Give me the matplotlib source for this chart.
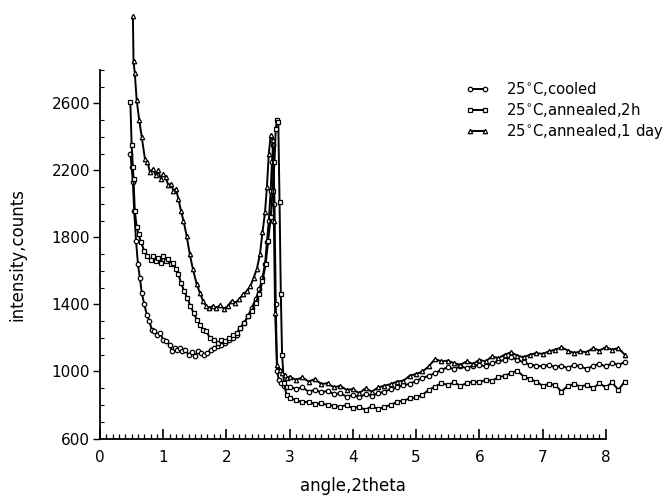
#!/usr/bin/env python3
"""Small-angle scattering scans of the 25 C samples (cooled / annealed)."""

from __future__ import annotations

import matplotlib

matplotlib.use("Agg")
import matplotlib.pyplot as plt
from matplotlib.ticker import MultipleLocator

# shared tail of the scans, angle 3.1 .. 8.3
TAIL_ANGLE = [
    3.1, 3.2, 3.3, 3.4, 3.5, 3.6, 3.7, 3.8, 3.9, 4.0, 4.1, 4.2, 4.3, 4.4,
    4.5, 4.6, 4.7, 4.8, 4.9, 5.0, 5.1, 5.2, 5.3, 5.4, 5.5, 5.6, 5.7, 5.8,
    5.9, 6.0, 6.1, 6.2, 6.3, 6.4, 6.5, 6.6, 6.7, 6.8, 6.9, 7.0, 7.1, 7.2,
    7.3, 7.4, 7.5, 7.6, 7.7, 7.8, 7.9, 8.0, 8.1, 8.2, 8.3,
]

# 25 C, cooled (circles)
COOLED_ANGLE = [
    0.48, 0.50, 0.52, 0.54, 0.57, 0.60, 0.63, 0.66, 0.70, 0.74, 0.78, 0.82,
    0.86, 0.90, 0.95, 1.00, 1.05, 1.10, 1.14, 1.18, 1.22, 1.26, 1.30, 1.35,
    1.40, 1.45, 1.50, 1.55, 1.60, 1.65, 1.70, 1.75, 1.80, 1.86, 1.92, 1.98,
    2.04, 2.10, 2.16, 2.22, 2.28, 2.34, 2.40, 2.46, 2.52, 2.57, 2.61, 2.64,
    2.67, 2.70, 2.72, 2.74, 2.76, 2.78, 2.80, 2.83, 2.87, 2.91, 2.95, 3.00,
]
COOLED_HEAD = [
    2300, 2220, 2130, 1960, 1780, 1640, 1560, 1470, 1400, 1340, 1300, 1250,
    1240, 1220, 1230, 1190, 1180, 1160, 1120, 1140, 1130, 1140, 1120, 1130,
    1100, 1115, 1090, 1120, 1110, 1100, 1110, 1130, 1140, 1150, 1160, 1170,
    1190, 1200, 1220, 1260, 1290, 1330, 1380, 1430, 1490, 1560, 1640, 1770,
    1900, 2080, 2250, 2350, 2000, 1400, 1000, 950, 930, 915, 905, 910,
]
COOLED_TAIL = [
    895, 905, 880, 890, 875, 885, 865, 870, 850, 860, 845, 865, 855, 870,
    880, 895, 905, 920, 925, 945, 960, 975, 990, 1010, 1025, 1015, 1030, 1020,
    1035, 1040, 1030, 1050, 1060, 1070, 1085, 1070, 1055, 1040, 1035, 1030, 1040, 1025,
    1035, 1020, 1040, 1030, 1015, 1035, 1045, 1030, 1050, 1040, 1055,
]

# 25 C, annealed 2h (squares)
ANNEAL_2H_ANGLE = [
    0.48, 0.50, 0.52, 0.53, 0.55, 0.58, 0.61, 0.65, 0.70, 0.75, 0.80, 0.84,
    0.88, 0.92, 0.96, 1.00, 1.04, 1.08, 1.12, 1.16, 1.20, 1.24, 1.28, 1.33,
    1.38, 1.43, 1.48, 1.53, 1.58, 1.63, 1.68, 1.74, 1.80, 1.86, 1.92, 1.98,
    2.04, 2.10, 2.16, 2.22, 2.28, 2.34, 2.40, 2.46, 2.52, 2.57, 2.62, 2.66,
    2.70, 2.73, 2.76, 2.78, 2.80, 2.82, 2.84, 2.86, 2.88, 2.91, 2.95, 3.00,
]
ANNEAL_2H_HEAD = [
    2610, 2350, 2220, 2150, 1960, 1860, 1820, 1770, 1720, 1690, 1665, 1690,
    1660, 1680, 1650, 1690, 1660, 1670, 1640, 1650, 1610, 1580, 1530, 1480,
    1440, 1390, 1350, 1310, 1280, 1250, 1240, 1200, 1190, 1170, 1190, 1180,
    1200, 1215, 1230, 1260, 1290, 1330, 1360, 1410, 1460, 1540, 1640, 1780,
    1920, 2080, 2250, 2450, 2500, 2490, 2010, 1460, 1100, 930, 860, 840,
]
ANNEAL_2H_TAIL = [
    830, 815, 820, 805, 810, 800, 795, 790, 800, 780, 790, 770, 795, 775,
    790, 800, 820, 825, 840, 845, 860, 890, 910, 930, 920, 935, 915, 930,
    940, 935, 950, 945, 965, 975, 990, 1005, 970, 955, 940, 915, 925, 920,
    880, 915, 925, 910, 920, 900, 930, 905, 935, 890, 940,
]

# 25 C, annealed 1 day (triangles)
ANNEAL_1D_ANGLE = [
    0.52, 0.53, 0.55, 0.58, 0.62, 0.66, 0.71, 0.75, 0.79, 0.84, 0.88, 0.92,
    0.96, 1.00, 1.04, 1.08, 1.12, 1.16, 1.20, 1.24, 1.28, 1.32, 1.37, 1.42,
    1.47, 1.53, 1.58, 1.63, 1.68, 1.73, 1.78, 1.84, 1.90, 1.96, 2.02, 2.08,
    2.14, 2.20, 2.26, 2.32, 2.38, 2.43, 2.48, 2.53, 2.57, 2.61, 2.64, 2.67,
    2.70, 2.73, 2.75, 2.77, 2.80, 2.84, 2.88, 2.92, 2.96, 3.00,
]
ANNEAL_1D_HEAD = [
    3120, 2850, 2780, 2620, 2500, 2400, 2270, 2250, 2190, 2210, 2170, 2200,
    2150, 2180, 2160, 2110, 2120, 2080, 2090, 2030, 1960, 1900, 1810, 1700,
    1610, 1520, 1470, 1420, 1390, 1380, 1390, 1380, 1395, 1375, 1390, 1420,
    1410, 1430, 1460, 1480, 1510, 1560, 1610, 1700, 1830, 1950, 2100, 2300,
    2410, 2380, 1900, 1350, 1040, 1010, 990, 980, 960, 970,
]
ANNEAL_1D_TAIL = [
    950, 965, 940, 955, 925, 930, 905, 915, 890, 895, 870, 900, 880, 905,
    915, 925, 940, 945, 975, 985, 1000, 1030, 1075, 1060, 1065, 1050, 1040, 1060,
    1045, 1070, 1060, 1090, 1080, 1100, 1115, 1095, 1085, 1100, 1110, 1105, 1120, 1130,
    1145, 1125, 1110, 1120, 1115, 1140, 1125, 1145, 1130, 1140, 1100,
]

LABELS = [
    r"25$^{\circ}$C,cooled",
    r"25$^{\circ}$C,annealed,2h",
    r"25$^{\circ}$C,annealed,1 day",
]
MARKERS = ["o", "s", "^"]

X_TICKS = [0, 1, 2, 3, 4, 5, 6, 7, 8]
Y_TICKS = [600, 1000, 1400, 1800, 2200, 2600]


def make_plot(path: str) -> None:
    plt.rcParams["font.family"] = ["DejaVu Sans"]
    fig = plt.figure(figsize=(6.65, 4.99), dpi=100)
    ax = fig.add_axes([0.1504, 0.1212, 0.7605, 0.7388])

    series = [
        (COOLED_ANGLE + TAIL_ANGLE, COOLED_HEAD + COOLED_TAIL),
        (ANNEAL_2H_ANGLE + TAIL_ANGLE, ANNEAL_2H_HEAD + ANNEAL_2H_TAIL),
        (ANNEAL_1D_ANGLE + TAIL_ANGLE, ANNEAL_1D_HEAD + ANNEAL_1D_TAIL),
    ]
    for (x, y), label, marker in zip(series, LABELS, MARKERS):
        ax.plot(
            x, y, color="black", lw=1.4, marker=marker, ms=3.2,
            mfc="white", mec="black", mew=0.9, label=label, clip_on=False,
        )

    ax.set_xlim(0, 8)
    ax.set_ylim(600, 2800)
    ax.spines["top"].set_visible(False)
    ax.spines["right"].set_visible(False)
    ax.spines["left"].set_linewidth(1.3)
    ax.spines["bottom"].set_linewidth(1.3)

    ax.set_xticks(X_TICKS)
    ax.set_yticks(Y_TICKS)
    ax.xaxis.set_minor_locator(MultipleLocator(0.1))
    ax.yaxis.set_minor_locator(MultipleLocator(100))
    ax.tick_params(axis="x", which="major", direction="in", length=7, width=1.2, labelsize=11, pad=8)
    ax.tick_params(axis="x", which="minor", direction="in", length=3.5, width=0.9)
    ax.tick_params(axis="y", which="major", direction="out", length=5, width=1.0, labelsize=11, pad=2)
    ax.tick_params(axis="y", which="minor", direction="in", length=3, width=0.8)

    ax.set_xlabel("angle,2theta", fontsize=12, labelpad=9)
    ax.set_ylabel("intensity,counts", fontsize=12, labelpad=18)

    ax.legend(
        loc="upper left", bbox_to_anchor=(0.700, 0.840), bbox_transform=fig.transFigure,
        frameon=False, fontsize=10.7, handlelength=1.6, handletextpad=1.1,
        labelspacing=0.22, borderpad=0.0, borderaxespad=0.0, numpoints=2,
    )

    fig.savefig(path, dpi=100)
    plt.close(fig)


def main() -> int:
    make_plot("out.png")
    return 0


if __name__ == "__main__":
    raise SystemExit(main())
